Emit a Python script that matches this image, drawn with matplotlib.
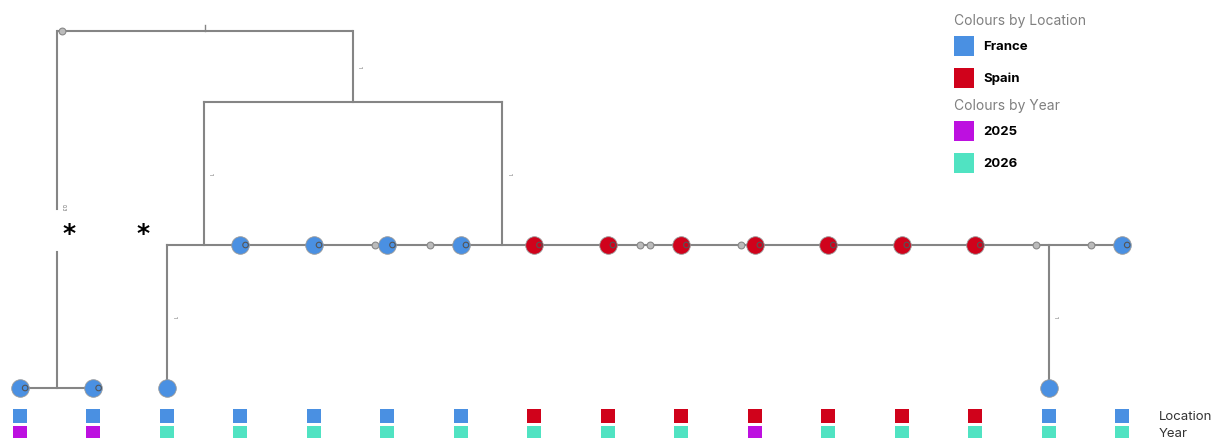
import numpy as np
import matplotlib
matplotlib.use("Agg")
import matplotlib.pyplot as plt
from matplotlib.patches import Rectangle

plt.rcParams['font.family'] = ['Inter', 'DejaVu Sans']

# samples, left to right
sample_col = np.arange(16)
location = ['France'] * 7 + ['Spain'] * 7 + ['France'] * 2
year = ['2025', '2025', '2026', '2026', '2026', '2026', '2026', '2026',
        '2026', '2026', '2025', '2026', '2026', '2026', '2026', '2026']
# depth of each sample in the tree (0 = root)
sample_depth = [2.5, 2.5, 2.5, 1.5, 1.5, 1.5, 1.5, 1.5,
                1.5, 1.5, 1.5, 1.5, 1.5, 1.5, 2.5, 1.5]

# sampled chain that runs along depth 1.5
chain_depth = 1.5
chain_members = list(range(2, 16))
chain_drops = [2, 14]           # samples hanging below the chain
pair = [0, 1]                   # clade joined at the bottom left
pair_node_x = 0.5
upper_nodes_x = [2.5, 6.56]     # nodes attaching the chain to the upper split
upper_split = (4.53, 0.5)       # x, depth
root = (2.52, 0.0)

# unsampled intermediate states along the chain (x positions)
hidden_x = [4.83, 5.58, 8.44, 8.57, 9.81, 13.83, 14.58]
root_hidden_x = 0.57

branch_labels = [(4.53, 0.25, '1'), (2.5, 1.0, '1'), (6.56, 1.0, '1'),
                 (2, 2.0, '1'), (14, 2.0, '1'), (0.5, 1.23, '0.3')]
asterisks_x = [0.67, 1.67]
asterisk_depth = 1.415
gap_depth = (1.25, 1.55)

loc_colours = {'France': '#4A90E2', 'Spain': '#D0021B'}
year_colours = {'2025': '#BD10E0', '2026': '#50E3C2'}
line_col = '#858585'

# pixel layout of the depth axis
y0, unit = 31.5, 143.0

fig = plt.figure(figsize=(12.2, 4.39), dpi=100)
ax = fig.add_axes([0, 0, 1, 1])
step = 73.47
ax.set_xlim(-20 / step, -20 / step + 1220 / step)
ax.set_ylim((439 - y0) / unit, -y0 / unit)
ax.axis('off')

lw = 1.5
# root and the top split
ax.plot([pair_node_x, upper_split[0]], [root[1], root[1]], color=line_col, lw=lw, solid_capstyle='butt')
ax.plot([root[0], root[0]], [root[1], root[1] - 0.04], color=line_col, lw=1)
ax.plot([upper_split[0], upper_split[0]], [root[1], upper_split[1]], color=line_col, lw=lw)
# left branch down to the pair, broken around the asterisks
ax.plot([pair_node_x, pair_node_x], [root[1], gap_depth[0]], color=line_col, lw=lw)
ax.plot([pair_node_x, pair_node_x], [gap_depth[1], sample_depth[pair[0]]], color=line_col, lw=lw)
ax.plot([sample_col[pair[0]], sample_col[pair[1]]], [sample_depth[pair[0]]] * 2, color=line_col, lw=lw)
# upper split to the chain
ax.plot([upper_nodes_x[0], upper_nodes_x[1]], [upper_split[1]] * 2, color=line_col, lw=lw)
for ux in upper_nodes_x:
    ax.plot([ux, ux], [upper_split[1], chain_depth], color=line_col, lw=lw)
# the chain itself
ax.plot([sample_col[chain_members[0]], sample_col[chain_members[-1]]], [chain_depth] * 2,
        color=line_col, lw=lw)
for d in chain_drops:
    ax.plot([sample_col[d]] * 2, [chain_depth, sample_depth[d]], color=line_col, lw=lw)

# hidden states
ax.scatter(hidden_x, [chain_depth] * len(hidden_x), s=24, marker='o', facecolor='#bbbbbb',
           edgecolor='#888888', lw=0.8, zorder=3)
ax.scatter([root_hidden_x], [root[1]], s=24, facecolor='#bbbbbb', edgecolor='#888888', lw=0.8, zorder=3)

# sampled nodes
for i in sample_col:
    c = loc_colours[location[i]]
    ax.scatter([i], [sample_depth[i]], s=160, color=c, edgecolor='#999999', lw=0.6, zorder=4)
    if i != 2 and i != 14:
        ax.scatter([i + 0.07], [sample_depth[i]], s=16, facecolor='none', edgecolor='#555555',
                   lw=0.8, zorder=5)

for bx, bd, t in branch_labels:
    ax.text(bx + 0.06, bd, t, fontsize=3.5, color='#666666', rotation=-90, va='center', ha='left')

for axx in asterisks_x:
    ax.text(axx, asterisk_depth, '*', fontsize=18, fontweight='bold', ha='center', va='center',
            color='black', family=['DejaVu Sans'])

# location and year strips
sq = 14 / step
loc_row, year_row = (417 - y0) / unit, (434 - y0) / unit
sq_h = 14 / unit
for i in sample_col:
    ax.add_patch(Rectangle((i - sq / 2, loc_row - sq_h / 2), sq, sq_h,
                           facecolor=loc_colours[location[i]], edgecolor='none'))
    ax.add_patch(Rectangle((i - sq / 2, year_row - sq_h / 2), sq, sq_h,
                           facecolor=year_colours[year[i]], edgecolor='none'))
ax.text((1159 - 20) / step, loc_row, 'Location', fontsize=9.5, color='#333333', va='center')
ax.text((1159 - 20) / step, year_row, 'Year', fontsize=9.5, color='#333333', va='center')

# legend
def fig_xy(px, py):
    return px / 1220, 1 - py / 439

legend_rows = [('title', 'Colours by Location', None)] + \
              [('item', k, v) for k, v in loc_colours.items()] + \
              [('title', 'Colours by Year', None)] + \
              [('item', k, v) for k, v in year_colours.items()]
row_y = [21, 47, 79, 106, 132, 164]
for (kind, label, col), py in zip(legend_rows, row_y):
    if kind == 'title':
        x, y = fig_xy(954, py)
        fig.text(x, y, label, fontsize=10, color='#808080', va='center')
    else:
        x, y = fig_xy(954, py + 10)
        fig.patches.append(Rectangle((x, y), 20 / 1220, 20 / 439, facecolor=col,
                                     edgecolor='none', transform=fig.transFigure))
        x, y = fig_xy(983, py)
        fig.text(x, y, label, fontsize=9.5, fontweight='bold', color='black', va='center')

fig.savefig('out.png', dpi=100)
